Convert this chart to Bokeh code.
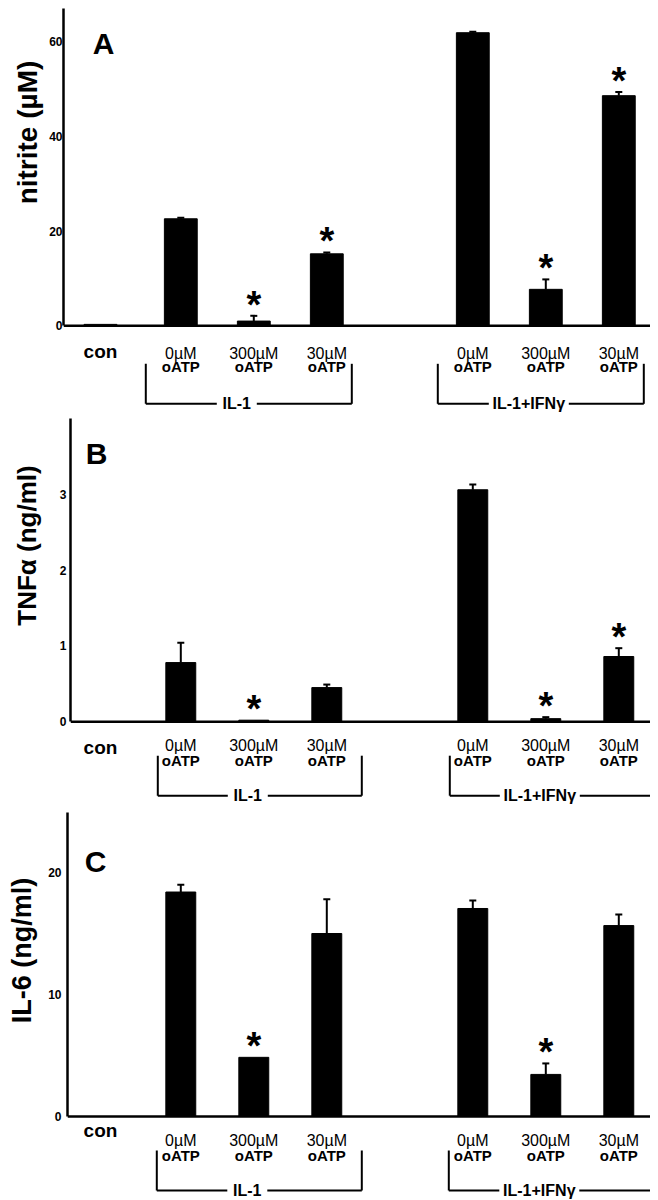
import math
from bokeh.plotting import figure
from bokeh.layouts import column, row
from bokeh.models import Range1d, FixedTicker, Span, Whisker, TeeHead, ColumnDataSource
from bokeh.embed import file_html
from bokeh.resources import INLINE
from bokeh.core.properties import value

# ---------------- data ----------------
control_label = "con"
dose_labels = ["0µM", "300µM", "30µM", "0µM", "300µM", "30µM"]
agent_labels = ["oATP", "oATP", "oATP", "oATP", "oATP", "oATP"]
group_labels = ["IL-1", "IL-1+IFNγ"]
group_members = [[1, 2, 3], [4, 5, 6]]
bar_pos = [0, 1.1, 2.1, 3.1, 5.1, 6.1, 7.1]

nitrite = [0.3, 22.6, 1.0, 15.2, 61.9, 7.7, 48.6]
nitrite_err = [0.0, 0.2, 1.1, 0.3, 0.2, 2.1, 0.8]
nitrite_sig = [False, False, True, True, False, True, True]
nitrite_ticks = [0, 20, 40, 60]

tnf = [0.0, 0.78, 0.02, 0.45, 3.06, 0.04, 0.86]
tnf_err = [0.0, 0.26, 0.0, 0.04, 0.07, 0.02, 0.11]
tnf_sig = [False, False, True, False, False, True, True]
tnf_ticks = [0, 1, 2, 3]

il6 = [0.0, 18.4, 4.85, 15.0, 17.05, 3.45, 15.65]
il6_err = [0.0, 0.6, 0.0, 2.8, 0.65, 0.9, 0.9]
il6_sig = [False, False, True, False, False, True, False]
il6_ticks = [0, 10, 20]

FONT = "Liberation Sans"
PX = 73.0      # pixels per x unit
CON_X = 100.0  # page x of the control position
LAB_W = 44     # width of the y-title strip
TOTAL_W = 650  # page x 0 .. 650


def panel(cfg, vals, errs, sig, ticks, ylabel, letter):
    s = cfg["scale"]
    base = cfg["base"]
    top = cfg["top"]
    h = cfg["h"]
    ax = cfg["axis_x"]

    def X(px):
        return (px - CON_X) / PX

    def Y(py):
        return (base - py) / s

    # ---- y-title strip ----
    lab = figure(width=LAB_W, height=h, x_range=Range1d(0, LAB_W),
                 y_range=Range1d(Y(top + h), Y(top)),
                 output_backend="svg", toolbar_location=None,
                 x_axis_location=None, y_axis_location=None,
                 min_border_left=0, min_border_right=0,
                 min_border_top=0, min_border_bottom=0)
    lab.outline_line_color = None
    lab.grid.visible = False
    lab.text(x=[cfg["ylab"][0]], y=[Y(cfg["ylab"][1])], text=[ylabel],
             angle=math.pi / 2, text_align="center", text_baseline="middle",
             text_font=value(FONT), text_font_style="bold",
             text_font_size=cfg["ylab_size"], text_color="black")

    # ---- main plot ----
    p = figure(width=TOTAL_W - LAB_W, height=h,
               x_range=Range1d(X(ax), X(TOTAL_W)),
               y_range=Range1d(Y(top + h), Y(top)),
               output_backend="svg", toolbar_location=None,
               x_axis_location=None,
               min_border_left=ax - LAB_W, min_border_right=0,
               min_border_top=0, min_border_bottom=0)
    p.outline_line_color = None
    p.grid.visible = False

    yax = p.yaxis[0]
    yax.ticker = FixedTicker(ticks=ticks)
    yax.bounds = (0, Y(cfg["axis_top"]))
    yax.axis_line_width = 2.5
    yax.axis_line_color = "black"
    yax.major_tick_out = 0
    yax.major_tick_in = 0
    yax.minor_tick_out = 0
    yax.minor_tick_in = 0
    yax.major_label_standoff = cfg["tick_standoff"]
    yax.major_label_text_font = FONT
    yax.major_label_text_font_style = "bold"
    yax.major_label_text_font_size = "12px"
    yax.major_label_text_color = "black"

    # baseline
    p.add_layout(Span(location=0, dimension="width", line_color="black", line_width=2.5))

    # bars
    p.vbar(x=bar_pos, top=vals, bottom=0, width=cfg["bar_w"], color="black")

    # error bars (upper only)
    idx = [i for i in range(len(vals)) if errs[i] > 0]
    esrc = ColumnDataSource(dict(x=[bar_pos[i] for i in idx],
                                 lower=[vals[i] for i in idx],
                                 upper=[vals[i] + errs[i] for i in idx]))
    p.add_layout(Whisker(source=esrc, base="x", lower="lower", upper="upper",
                         line_color="black", line_width=2,
                         upper_head=TeeHead(size=7, line_width=2, line_color="black"),
                         lower_head=None))

    # significance asterisks
    sidx = [i for i in range(len(vals)) if sig[i]]
    p.text(x=[bar_pos[i] for i in sidx],
           y=[vals[i] + errs[i] + 11.0 / s for i in sidx],
           text=["*"] * len(sidx), text_font=value(FONT),
           text_font_style="bold", text_font_size="38px",
           text_align="center", text_baseline="middle", text_color="black")

    # panel letter
    p.text(x=[X(cfg["letter"][0])], y=[Y(cfg["letter"][1])], text=[letter],
           text_font=value(FONT), text_font_style="bold", text_font_size="30px",
           text_align="center", text_baseline="middle", text_color="black")

    # category labels below the axis
    p.text(x=[bar_pos[0]], y=[-cfg["con_off"] / s], text=[control_label],
           text_font=value(FONT), text_font_style="bold", text_font_size="19px",
           text_align="center", text_baseline="middle", text_color="black")
    p.text(x=bar_pos[1:], y=[-cfg["dose_off"] / s] * 6, text=dose_labels,
           text_font=value(FONT), text_font_style="normal", text_font_size="16px",
           text_align="center", text_baseline="middle", text_color="black")
    p.text(x=bar_pos[1:], y=[-cfg["agent_off"] / s] * 6, text=agent_labels,
           text_font=value(FONT), text_font_style="bold", text_font_size="15px",
           text_align="center", text_baseline="middle", text_color="black")

    # group brackets
    padL, padR = cfg["pads"]
    yt = -cfg["br_top"] / s
    yb = -cfg["br_bot"] / s
    gsize = 16
    bx0, bx1, by0, by1 = [], [], [], []
    lx, ly = [], []
    for members, name in zip(group_members, group_labels):
        left = bar_pos[members[0]] - padL / PX
        right = bar_pos[members[-1]] + padR / PX
        cx = (left + right) / 2 - 12 / PX
        half = (0.5 * gsize * len(name) / 2 + 4) / PX
        bx0 += [left, right, left, cx + half]
        bx1 += [left, right, cx - half, right]
        by0 += [yt, yt, yb, yb]
        by1 += [yb, yb, yb, yb]
        lx.append(cx)
        ly.append(yb)
    p.segment(x0=bx0, y0=by0, x1=bx1, y1=by1, line_color="black", line_width=2)
    p.text(x=lx, y=ly, text=group_labels, text_font=value(FONT),
           text_font_style="bold", text_font_size="%dpx" % gsize, text_align="center",
           text_baseline="middle", text_color="black")
    return row(lab, p, spacing=0)


cfgA = dict(top=0, h=416, axis_x=63, base=325.3, scale=4.735, axis_top=8,
            tick_standoff=1, bar_w=0.45, letter=(103, 43), ylab=(27, 132),
            ylab_size="28px", con_off=26, dose_off=28, agent_off=41,
            br_top=38, br_bot=78, pads=(35, 25))
cfgB = dict(top=416, h=392, axis_x=70, base=721.2, scale=75.8, axis_top=418,
            tick_standoff=4, bar_w=0.41, letter=(96, 453), ylab=(26, 545),
            ylab_size="26px", con_off=26, dose_off=24, agent_off=39,
            br_top=34, br_bot=74, pads=(23, 35))
cfgC = dict(top=808, h=392, axis_x=67, base=1116, scale=12.2, axis_top=812,
            tick_standoff=6, bar_w=0.41, letter=(95, 861), ylab=(21, 950),
            ylab_size="27px", con_off=14, dose_off=24, agent_off=39,
            br_top=34, br_bot=74, pads=(24, 35))

rA = panel(cfgA, nitrite, nitrite_err, nitrite_sig, nitrite_ticks, "nitrite (µM)", "A")
rB = panel(cfgB, tnf, tnf_err, tnf_sig, tnf_ticks, "TNFα (ng/ml)", "B")
rC = panel(cfgC, il6, il6_err, il6_sig, il6_ticks, "IL-6 (ng/ml)", "C")

layout = column(rA, rB, rC, spacing=0)
open("out.html", "w").write(file_html(layout, INLINE))
